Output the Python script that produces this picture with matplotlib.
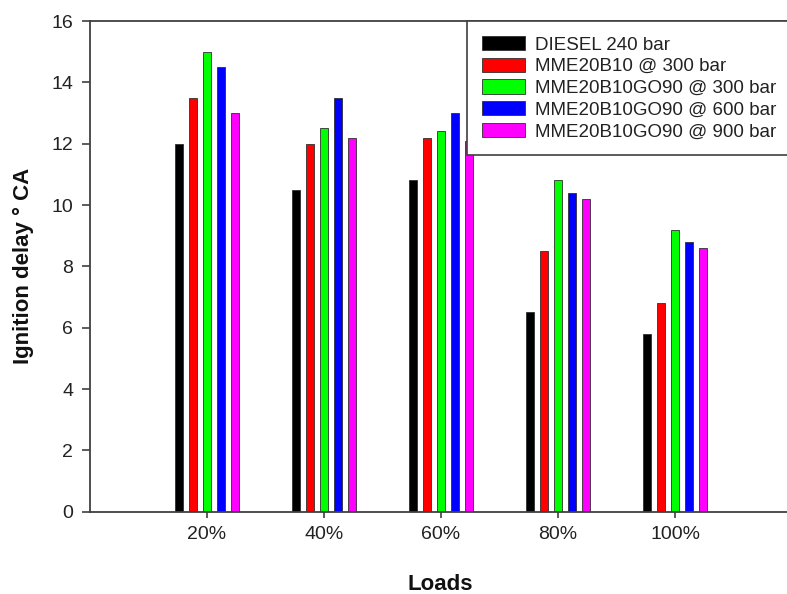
import numpy as np
import matplotlib
matplotlib.use("Agg")
import matplotlib.pyplot as plt

# region Data
loads = ["20%", "40%", "60%", "80%", "100%"]
series_names = ["DIESEL 240 bar", "MME20B10 @ 300 bar", "MME20B10GO90 @ 300 bar",
                "MME20B10GO90 @ 600 bar", "MME20B10GO90 @ 900 bar"]
diesel_240 = [12.0, 10.5, 10.8, 6.5, 5.8]
mme_300 = [13.5, 12.0, 12.2, 8.5, 6.8]
go90_300 = [15.0, 12.5, 12.4, 10.8, 9.2]
go90_600 = [14.5, 13.5, 13.0, 10.4, 8.8]
go90_900 = [13.0, 12.2, 12.1, 10.2, 8.6]
bar_colors = ["#000000", "#ff0000", "#00ff00", "#0000ff", "#ff00ff"]
# endregion

plt.rcParams['font.family'] = ['Liberation Sans', 'DejaVu Sans']

fig = plt.figure(figsize=(7.87, 5.94), dpi=100)
# axes run a little past the right border, so no right spine shows
ax = fig.add_axes([90 / 787, 82.3 / 594, 702 / 787, 490.7 / 594])

all_series = [diesel_240, mme_300, go90_300, go90_600, go90_900]
x_index = np.arange(1, len(loads) + 1)
bar_width = 0.075
step = 0.12

for i, values in enumerate(all_series):
    ax.bar(x_index + (i - 2) * step, values, bar_width,
           color=bar_colors[i], edgecolor="#303030", linewidth=0.6,
           label=series_names[i], zorder=2)

ax.set_xlim(0, 6)
ax.set_ylim(0, 16)
ax.set_yticks(np.arange(0, 17, 2))
ax.set_xticks(x_index)
ax.set_xticklabels(loads)

spine_color = "#404040"
for side in ["left", "bottom", "top"]:
    ax.spines[side].set_color(spine_color)
    ax.spines[side].set_linewidth(1.3)
ax.spines["right"].set_visible(False)

ax.tick_params(axis="y", direction="out", length=6, width=1.2, color=spine_color,
               labelsize=14, labelcolor="#222222", pad=6)
ax.tick_params(axis="x", direction="out", length=4.5, width=1.2, color=spine_color,
               labelsize=14, labelcolor="#222222", pad=6)

fig.text(0.030, (82.3 + 490.7 / 2) / 594, "Ignition delay \u00b0 CA", rotation=90,
         ha="center", va="center", fontsize=16, fontweight="bold", color="#111111")
fig.text(440 / 787, 9 / 594, "Loads", ha="center", va="center",
         fontsize=16, fontweight="bold", color="#111111")

# legend box hangs from the top spine
leg = ax.legend(loc="upper left", bbox_to_anchor=(466.7 / 787, 1 - 21 / 594),
                bbox_transform=fig.transFigure, borderaxespad=0, fontsize=13.5,
                fancybox=False, framealpha=1, edgecolor=spine_color,
                borderpad=0.8, labelspacing=0.22, handlelength=2.3,
                handleheight=0.78, handletextpad=0.55)
leg.get_frame().set_linewidth(1.2)
for text in leg.get_texts():
    text.set_color("#222222")
for patch in leg.get_patches():
    patch.set_edgecolor("#303030")

fig.savefig("out.png", dpi=100)
